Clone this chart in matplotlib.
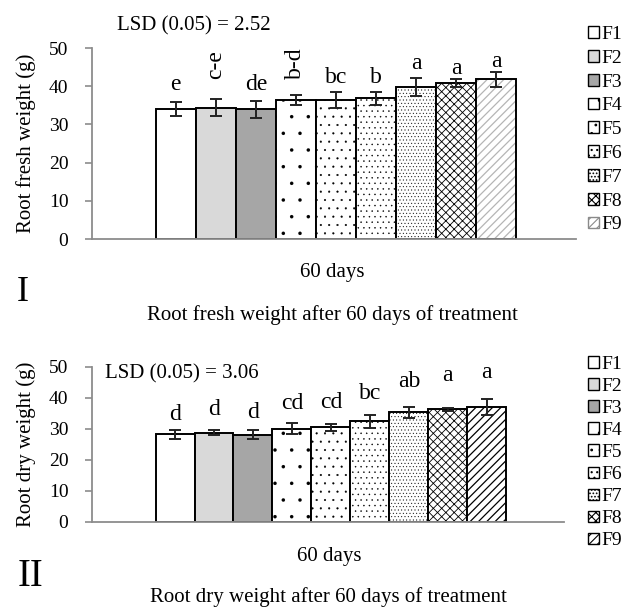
import numpy as np
import matplotlib
matplotlib.use('Agg')
from matplotlib import pyplot as plt
from matplotlib.patches import Patch

plt.rcParams['font.family'] = ['Liberation Serif', 'DejaVu Serif']
plt.rcParams['hatch.linewidth'] = 0.8

# data
treatments = ['F1', 'F2', 'F3', 'F4', 'F5', 'F6', 'F7', 'F8', 'F9']
fresh_weight = [34.0, 34.4, 34.0, 36.4, 36.4, 36.8, 39.8, 40.8, 41.8]
fresh_err = [1.8, 2.2, 2.2, 1.4, 2.0, 1.6, 2.3, 1.1, 2.0]
fresh_letters = ['e', 'c-e', 'de', 'b-d', 'bc', 'b', 'a', 'a', 'a']
dry_weight = [28.1, 28.6, 28.0, 29.9, 30.4, 32.3, 35.2, 36.2, 36.9]
dry_err = [1.5, 0.8, 1.5, 1.8, 1.1, 2.2, 1.7, 0.4, 2.5]
dry_letters = ['d', 'd', 'd', 'cd', 'cd', 'bc', 'ab', 'a', 'a']
yticks = [0, 10, 20, 30, 40, 50]

# bar styles
face_colors = ['white', '#d9d9d9', '#a6a6a6', 'white', 'white', 'white', 'white', 'white', 'white']
hatches = [None, None, None, '.', '..', '...', '.....', 'xxxx', '////']
hatch_lw = [1, 1, 1, 0.1, 0.3, 0.3, 0.3, 0.6, 0.9]
# gap between error bar top and the letter (data units), as placed in the original
fresh_gap = [1.8, 5.3, 1.6, 4.0, 1.0, 1.2, 1.0, 0.0, -0.2]
dry_gap = [1.6, 3.4, 2.4, 3.0, 3.5, 3.4, 5.0, 7.0, 5.3]

W, H = 629, 609


def fig_xy(x, y):
    # pixel position (from top-left) -> figure fraction
    return x / W, 1 - y / H


def set_hlw(patches, lw):
    for p in patches:
        if hasattr(p, 'set_hatch_linewidth'):
            p.set_hatch_linewidth(lw)


def draw_panel(ax, values, errs, letters, gaps, f9_color, xlim, width_px):
    x = np.arange(len(values))
    for i in range(len(values)):
        if i == len(values) - 1:
            # hatch in its own colour, then a black outline on top
            b = ax.bar(x[i], values[i], width=1.0, color='white', edgecolor=f9_color,
                       hatch=hatches[i], linewidth=0)
            ax.bar(x[i], values[i], width=1.0, fill=False, edgecolor='black', linewidth=1.4)
        else:
            b = ax.bar(x[i], values[i], width=1.0, color=face_colors[i], edgecolor='black',
                       hatch=hatches[i], linewidth=1.4)
        set_hlw(b, hatch_lw[i])
    ax.errorbar(x, values, yerr=errs, fmt='none', ecolor='#222222', elinewidth=1.4,
                capsize=4.5, capthick=1.4)
    for xi, v, e, lab, g in zip(x, values, errs, letters, gaps):
        rot = 90 if '-' in lab else 0
        ax.text(xi, v + e + g, lab, ha='center', va='bottom', rotation=rot, fontsize=17)
    ax.set_ylim(0, 50)
    ax.set_xlim(*xlim)
    ax.set_yticks(yticks)
    ax.set_xticks([])
    for s in ['top', 'right']:
        ax.spines[s].set_visible(False)
    for s in ['left', 'bottom']:
        ax.spines[s].set_color('#8c8c8c')
        ax.spines[s].set_linewidth(1.3)
    ax.tick_params(axis='y', direction='out', length=5, width=1.2, color='#8c8c8c',
                   labelsize=14, pad=12)
    ax.yaxis.set_label_coords(-(92 - 36) / width_px, 0.5)


fig = plt.figure(figsize=(W / 100, H / 100), dpi=100)

# panel I
ax1 = fig.add_axes([92 / W, 1 - 239 / H, 484 / W, 191 / H])
draw_panel(ax1, fresh_weight, fresh_err, fresh_letters, fresh_gap, '#b5b5b5',
           (-2.09, 9.99), 484)
ax1.set_ylabel('Root fresh weight (g)', fontsize=15)

# panel II
ax2 = fig.add_axes([92 / W, 1 - 521.5 / H, 472 / W, 155 / H])
draw_panel(ax2, dry_weight, dry_err, dry_letters, dry_gap, 'black', (-2.13, 9.98), 472)
ax2.set_ylabel('Root dry weight (g)', fontsize=15)

# legends
for f9_color, top_y, spacing in [('#8a8a8a', 26, 0.35), ('black', 356, 0.26)]:
    handles = []
    for i, name in enumerate(treatments):
        edge = f9_color if i == len(treatments) - 1 else 'black'
        handles.append(Patch(facecolor=face_colors[i], edgecolor=edge, hatch=hatches[i],
                             linewidth=1.0, label=name))
    set_hlw(handles, 0.3)
    fig.legend(handles=handles, loc='upper left', bbox_to_anchor=fig_xy(588, top_y),
               frameon=False, fontsize=14, handlelength=0.55, handleheight=0.55,
               handletextpad=0.15, labelspacing=spacing, borderpad=0, borderaxespad=0)

# texts around the panels
fig.text(*fig_xy(194, 26), 'LSD (0.05) = 2.52', ha='center', va='center', fontsize=15)
fig.text(*fig_xy(332, 273), '60 days', ha='center', va='center', fontsize=15)
fig.text(*fig_xy(23, 292), 'I', ha='center', va='center', fontsize=26)
fig.text(*fig_xy(332, 315), 'Root fresh weight after 60 days of treatment',
         ha='center', va='center', fontsize=15)

fig.text(*fig_xy(105, 374), 'LSD (0.05) = 3.06', ha='left', va='center', fontsize=15)
fig.text(*fig_xy(329, 557), '60 days', ha='center', va='center', fontsize=15)
fig.text(*fig_xy(30, 577), 'II', ha='center', va='center', fontsize=28)
fig.text(*fig_xy(328, 597), 'Root dry weight after 60 days of treatment',
         ha='center', va='center', fontsize=15)

fig.savefig('out.png', dpi=100)
